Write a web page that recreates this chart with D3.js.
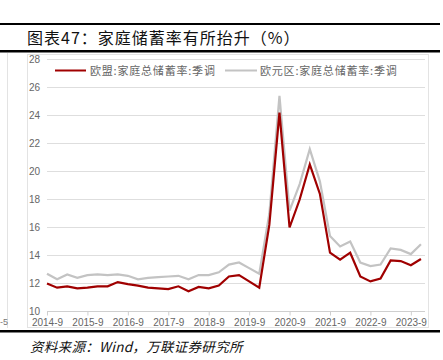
<!DOCTYPE html>
<html>
<head>
<meta charset="utf-8">
<script src="https://cdn.jsdelivr.net/npm/d3@7"></script>
<style>
  html, body { margin: 0; padding: 0; background: #fff; }
  svg { display: block; }
</style>
</head>
<body>
<svg id="chart" width="443" height="360"></svg>
<script>
// ---- data ----
const quarters = [
  "2014Q3","2014Q4","2015Q1","2015Q2","2015Q3","2015Q4","2016Q1","2016Q2",
  "2016Q3","2016Q4","2017Q1","2017Q2","2017Q3","2017Q4","2018Q1","2018Q2",
  "2018Q3","2018Q4","2019Q1","2019Q2","2019Q3","2019Q4","2020Q1","2020Q2",
  "2020Q3","2020Q4","2021Q1","2021Q2","2021Q3","2021Q4","2022Q1","2022Q2",
  "2022Q3","2022Q4","2023Q1","2023Q2","2023Q3","2023Q4"
];
const euSaving = [
  12.0, 11.7, 11.8, 11.65, 11.7, 11.8, 11.8, 12.1,
  11.95, 11.85, 11.7, 11.65, 11.6, 11.8, 11.45, 11.75,
  11.65, 11.85, 12.5, 12.6, 12.15, 11.7, 16.2, 24.2,
  16.0, 18.0, 20.5, 18.4, 14.2, 13.7, 14.2, 12.5,
  12.15, 12.35, 13.65, 13.6, 13.3, 13.75
];
const euroAreaSaving = [
  12.7, 12.3, 12.65, 12.4, 12.6, 12.65, 12.6, 12.65,
  12.55, 12.3, 12.4, 12.45, 12.5, 12.55, 12.3, 12.6,
  12.6, 12.8, 13.35, 13.5, 13.1, 12.7, 17.0, 25.4,
  17.2, 19.1, 21.6, 19.3, 15.4, 14.65, 15.0, 13.5,
  13.25, 13.35, 14.5, 14.4, 14.1, 14.8
];
const seriesNames = ["欧盟:家庭总储蓄率:季调", "欧元区:家庭总储蓄率:季调"];
const xTickLabels = ["2014-9","2015-9","2016-9","2017-9","2018-9","2019-9","2020-9","2021-9","2022-9","2023-9"];
const yTicks = [10, 12, 14, 16, 18, 20, 22, 24, 26, 28];
const titleText = "图表47：家庭储蓄率有所抬升（%）";
const sourceText = "资料来源：Wind，万联证券研究所";

// ---- drawing ----
const svg = d3.select("#chart");
const red = "#a00000", gray = "#c3c3c3";
const fontCJK = "'Noto Sans CJK SC', 'Liberation Sans', sans-serif";
const fontLatin = "'Liberation Sans', Arial, sans-serif";

// frame lines
svg.append("rect").attr("x", 0).attr("y", 23).attr("width", 440).attr("height", 2).attr("fill", "#000");
svg.append("rect").attr("x", 0).attr("y", 50).attr("width", 440).attr("height", 2.5).attr("fill", "#000");
svg.append("rect").attr("x", 0).attr("y", 330).attr("width", 440).attr("height", 2.5).attr("fill", "#000");

// title
svg.append("text").attr("x", 27).attr("y", 44)
  .attr("font-family", fontCJK).attr("font-size", 16).attr("fill", "#111")
  .attr("letter-spacing", 1)
  .text(titleText);

// source
svg.append("text").attr("x", 30).attr("y", 352)
  .attr("font-family", "'Noto Sans CJK SC', 'Liberation Mono', monospace")
  .attr("font-size", 13.5).attr("font-style", "italic").attr("fill", "#111")
  .attr("letter-spacing", 0.3)
  .text(sourceText);

// panel borders
svg.append("rect").attr("x", 27.5).attr("y", 54.5).attr("width", 401).attr("height", 273)
  .attr("fill", "none").attr("stroke", "#e3e3e3").attr("stroke-width", 1);
// neighbouring panel remnant
svg.append("line").attr("x1", 7.5).attr("x2", 7.5).attr("y1", 53).attr("y2", 328)
  .attr("stroke", "#e3e3e3");
svg.append("text").attr("x", 0).attr("y", 325).attr("text-anchor", "start")
  .attr("font-family", fontLatin).attr("font-size", 9).attr("fill", "#777").text("-5");

// scales
const x = d3.scaleLinear().domain([0, 37.4]).range([47, 425]);
const y = d3.scaleLinear().domain([10, 28]).range([311.5, 59.5]);

// gridlines
svg.append("g").selectAll("line").data(yTicks.slice(1)).join("line")
  .attr("x1", 47).attr("x2", 425)
  .attr("y1", d => y(d)).attr("y2", d => y(d))
  .attr("stroke", "#dedede").attr("stroke-width", 1);

// y axis labels
const yAxis = d3.axisLeft(y).tickValues(yTicks).tickSize(0).tickPadding(0);
const gy = svg.append("g").attr("transform", "translate(40,0)").call(yAxis);
gy.select(".domain").remove();
gy.selectAll("text").attr("font-family", fontLatin).attr("font-size", 10).attr("fill", "#666");

// x axis
const xTickIdx = xTickLabels.map((_, i) => i * 4);
const xAxis = d3.axisBottom(x).tickValues(xTickIdx)
  .tickFormat((d, i) => xTickLabels[i]).tickSize(4).tickPadding(3).tickSizeOuter(0);
const gx = svg.append("g").attr("transform", "translate(0,311.5)").call(xAxis);
gx.select(".domain").attr("stroke", "#cfcfcf").attr("d", "M47,0H425");
gx.selectAll(".tick line").attr("stroke", "#cfcfcf");
gx.selectAll("text").attr("font-family", fontLatin).attr("font-size", 10).attr("fill", "#666");

// lines
const line = d3.line().x((d, i) => x(i)).y(d => y(d));
svg.append("path").datum(euroAreaSaving).attr("d", line)
  .attr("fill", "none").attr("stroke", gray).attr("stroke-width", 2.2).attr("stroke-linejoin", "miter");
svg.append("path").datum(euSaving).attr("d", line)
  .attr("fill", "none").attr("stroke", red).attr("stroke-width", 2.2).attr("stroke-linejoin", "miter");

// legend
const legend = [
  { name: seriesNames[0], color: red, x1: 55, x2: 86, tx: 90 },
  { name: seriesNames[1], color: gray, x1: 225, x2: 257, tx: 260 }
];
const lg = svg.append("g");
legend.forEach(l => {
  lg.append("line").attr("x1", l.x1).attr("x2", l.x2).attr("y1", 70.5).attr("y2", 70.5)
    .attr("stroke", l.color).attr("stroke-width", 2);
  lg.append("text").attr("x", l.tx).attr("y", 74.5)
    .attr("font-family", fontCJK).attr("font-size", 11).attr("fill", "#666")
    .attr("letter-spacing", 0.8)
    .text(l.name);
});
</script>
</body>
</html>
